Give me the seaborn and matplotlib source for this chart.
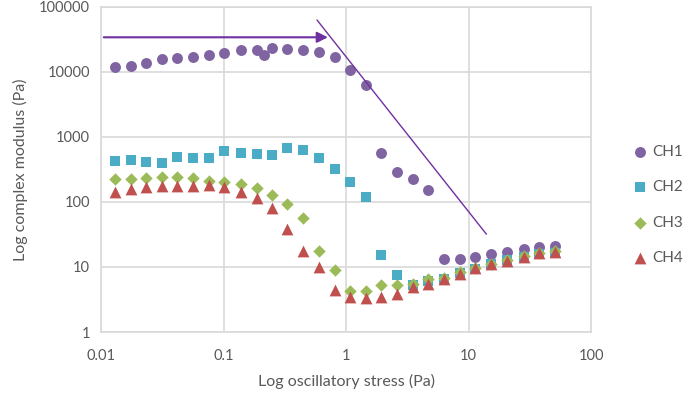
import numpy as np
import pandas as pd
import matplotlib
matplotlib.use("Agg")
import matplotlib.pyplot as plt
import seaborn as sns

# ---- data ----
stress = [0.013, 0.0175, 0.0233, 0.0313, 0.0419, 0.0566, 0.076, 0.101, 0.139, 0.186,
          0.215, 0.25, 0.333, 0.447, 0.6, 0.81, 1.08, 1.45, 1.94, 2.6,
          3.5, 4.7, 6.3, 8.6, 11.4, 15.4, 20.5, 28.4, 37.9, 50.7]
nan = np.nan
ch1 = [12070, 12500, 13900, 15700, 16300, 16800, 18000, 19600, 21600, 21600,
       18300, 23200, 22800, 21600, 20100, 17000, 10800, 6300, 573, 286,
       223, 153, 13.3, 13.3, 14.3, 15.8, 17.2, 18.9, 20.3, 21.0]
ch2 = [432, 448, 417, 403, 498, 481, 481, 609, 573, 553,
       nan, 534, 684, 638, 481, 318, 203, 121, 15.1, 7.5,
       5.3, 6.1, 6.5, 8.0, 9.3, 11.0, 12.8, 14.4, 15.8, 16.6]
ch3 = [226, 226, 237, 243, 243, 232, 210, 201, 187, 162,
       nan, 127, 92, 56, 17.8, 9.0, 4.2, 4.3, 5.2, 5.2,
       5.4, 6.6, 6.8, 8.3, 9.8, 11.0, 12.8, 14.8, 16.6, 17.6]
ch4 = [144, 158, 172, 178, 178, 178, 183, 172, 141, 116,
       nan, 80, 39, 17.8, 9.9, 4.5, 3.5, 3.3, 3.5, 3.9,
       4.9, 5.5, 6.5, 7.8, 9.5, 11.1, 12.5, 14.4, 16.2, 17.2]
series_names = ["CH1", "CH2", "CH3", "CH4"]
x_ticks = [0.01, 0.1, 1, 10, 100]
x_tick_labels = ["0.01", "0.1", "1", "10", "100"]
y_ticks = [1, 10, 100, 1000, 10000, 100000]
y_tick_labels = ["1", "10", "100", "1000", "10000", "100000"]
arrow_x = [0.01, 0.75]
arrow_y = [34200, 34200]
line_x = [0.58, 14]
line_y = [63000, 32]

df = pd.concat([
    pd.DataFrame({"stress": stress, "modulus": v, "series": n})
    for n, v in zip(series_names, [ch1, ch2, ch3, ch4])
]).dropna()

sns.set_theme(style="white")
plt.rcParams["font.family"] = ["Lato", "DejaVu Sans"]

text_color = "#595959"
grid_color = "#D9D9D9"
palette = {"CH1": "#8064A2", "CH2": "#4BACC6", "CH3": "#9BBB59", "CH4": "#C0504D"}
markers = {"CH1": "o", "CH2": "s", "CH3": "D", "CH4": "^"}
sizes_map = {"CH1": 62, "CH2": 55, "CH3": 40, "CH4": 72}

fig = plt.figure(figsize=(6.85, 3.98), dpi=100)
ax = fig.add_axes([101 / 685, 1 - 332 / 398, 490 / 685, 325 / 398])

for n in series_names:
    sub = df[df["series"] == n]
    sns.scatterplot(data=sub, x="stress", y="modulus", ax=ax, color=palette[n],
                    marker=markers[n], s=sizes_map[n], linewidth=0, label=n, zorder=3)

ax.set_xscale("log")
ax.set_yscale("log")
ax.set_xlim(0.01, 100)
ax.set_ylim(1, 100000)
ax.set_xticks(x_ticks)
ax.set_xticklabels(x_tick_labels)
ax.set_yticks(y_ticks)
ax.set_yticklabels(y_tick_labels)
ax.minorticks_off()
ax.tick_params(axis="both", length=0, labelsize=10.5, labelcolor=text_color)
ax.tick_params(axis="x", pad=12)
ax.tick_params(axis="y", pad=8)
ax.grid(True, color=grid_color, linewidth=1.2)
ax.set_axisbelow(True)
for s in ax.spines.values():
    s.set_color(grid_color)
    s.set_linewidth(1.2)

ax.set_xlabel("Log oscillatory stress (Pa)", fontsize=11.5, color=text_color, labelpad=8)
ax.set_ylabel("Log complex modulus (Pa)", fontsize=11.5, color=text_color, labelpad=8)

ax.annotate("", xy=(arrow_x[1], arrow_y[1]), xytext=(arrow_x[0], arrow_y[0]),
            arrowprops=dict(arrowstyle="-|>", color="#7030A0", lw=1.5, mutation_scale=16),
            zorder=4)
ax.plot(line_x, line_y, color="#7030A0", lw=1, zorder=4)

leg = ax.legend(loc="center left", bbox_to_anchor=(632 / 685, 0.485), bbox_transform=fig.transFigure,
                frameon=False, fontsize=11, labelspacing=1.4, handlelength=1.0,
                handletextpad=0.3, borderaxespad=0, borderpad=0)
for t in leg.get_texts():
    t.set_color(text_color)

fig.savefig("out.png", dpi=100)
